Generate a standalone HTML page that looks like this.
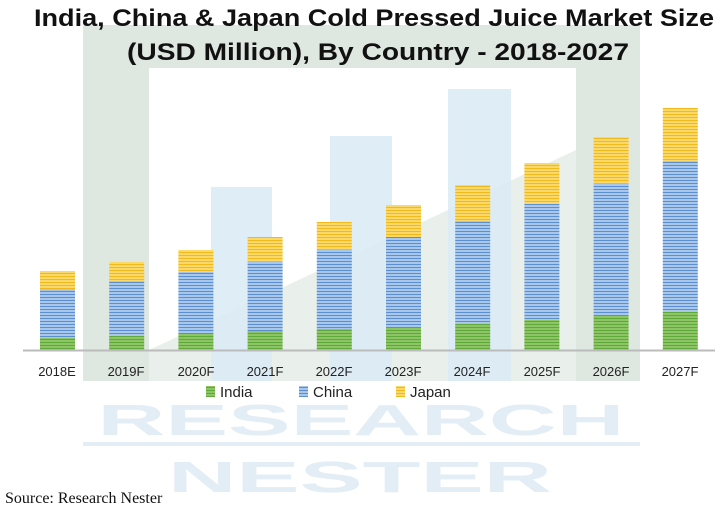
<!DOCTYPE html>
<html><head><meta charset="utf-8"><style>
body{margin:0;background:#fff;}
svg{display:block;}
</style></head><body>
<svg width="723" height="508" viewBox="0 0 723 508" xmlns="http://www.w3.org/2000/svg">
<defs>
<pattern id="pg" width="4" height="3" patternUnits="userSpaceOnUse"><rect width="4" height="3" fill="#8cc466"/><rect width="4" height="1" fill="#5fa83a"/></pattern>
<pattern id="pb" width="4" height="3" patternUnits="userSpaceOnUse"><rect width="4" height="3" fill="#a8c7ea"/><rect width="4" height="1" fill="#5b8fd0"/></pattern>
<pattern id="py" width="4" height="3" patternUnits="userSpaceOnUse"><rect width="4" height="3" fill="#fbd86a"/><rect width="4" height="1" fill="#f2b91c"/></pattern>
</defs>
<path d="M83 25 H640 V381 H576 V68 H149 V381 H83 Z" fill="#dfe7e1"/>
<polygon points="149,350 576,150 576,381 149,381" fill="#e9efea"/>
<rect x="211" y="187" width="61" height="194" fill="#dcebf5" opacity="0.9"/>
<rect x="330" y="136" width="62" height="245" fill="#dcebf5" opacity="0.9"/>
<rect x="448" y="89" width="63" height="292" fill="#dcebf5" opacity="0.9"/>
<text x="361" y="435" text-anchor="middle" font-family="Liberation Sans, sans-serif" font-weight="bold" font-size="44" fill="#e3edf5" textLength="527" lengthAdjust="spacingAndGlyphs">RESEARCH</text>
<rect x="83" y="442" width="557" height="4" fill="#e3edf5"/>
<text x="360" y="492" text-anchor="middle" font-family="Liberation Sans, sans-serif" font-weight="bold" font-size="44" fill="#e3edf5" textLength="384" lengthAdjust="spacingAndGlyphs">NESTER</text>
<text x="374" y="26" text-anchor="middle" font-family="Liberation Sans, sans-serif" font-weight="bold" font-size="24" fill="#111" textLength="680" lengthAdjust="spacingAndGlyphs">India, China &amp; Japan Cold Pressed Juice Market Size</text>
<text x="378" y="60" text-anchor="middle" font-family="Liberation Sans, sans-serif" font-weight="bold" font-size="24" fill="#111" textLength="502" lengthAdjust="spacingAndGlyphs">(USD Million), By Country - 2018-2027</text>
<g>
<rect x="40" y="271" width="35" height="18" fill="url(#py)"/><rect x="40" y="289" width="35" height="49" fill="url(#pb)"/><rect x="40" y="338" width="35" height="12" fill="url(#pg)"/>
<rect x="109.2" y="262" width="35" height="19" fill="url(#py)"/><rect x="109.2" y="281" width="35" height="55" fill="url(#pb)"/><rect x="109.2" y="336" width="35" height="14" fill="url(#pg)"/>
<rect x="178.4" y="250" width="35" height="22" fill="url(#py)"/><rect x="178.4" y="272" width="35" height="61" fill="url(#pb)"/><rect x="178.4" y="333" width="35" height="17" fill="url(#pg)"/>
<rect x="247.6" y="237" width="35" height="25" fill="url(#py)"/><rect x="247.6" y="262" width="35" height="69" fill="url(#pb)"/><rect x="247.6" y="331" width="35" height="19" fill="url(#pg)"/>
<rect x="316.8" y="222" width="35" height="28" fill="url(#py)"/><rect x="316.8" y="250" width="35" height="79" fill="url(#pb)"/><rect x="316.8" y="329" width="35" height="21" fill="url(#pg)"/>
<rect x="386" y="205" width="35" height="32" fill="url(#py)"/><rect x="386" y="237" width="35" height="90" fill="url(#pb)"/><rect x="386" y="327" width="35" height="23" fill="url(#pg)"/>
<rect x="455.2" y="185" width="35" height="36" fill="url(#py)"/><rect x="455.2" y="221" width="35" height="103" fill="url(#pb)"/><rect x="455.2" y="324" width="35" height="26" fill="url(#pg)"/>
<rect x="524.4" y="163" width="35" height="41" fill="url(#py)"/><rect x="524.4" y="204" width="35" height="116" fill="url(#pb)"/><rect x="524.4" y="320" width="35" height="30" fill="url(#pg)"/>
<rect x="593.6" y="137" width="35" height="47" fill="url(#py)"/><rect x="593.6" y="184" width="35" height="132" fill="url(#pb)"/><rect x="593.6" y="316" width="35" height="34" fill="url(#pg)"/>
<rect x="662.8" y="108" width="35" height="53" fill="url(#py)"/><rect x="662.8" y="161" width="35" height="151" fill="url(#pb)"/><rect x="662.8" y="312" width="35" height="38" fill="url(#pg)"/>
</g>
<line x1="23" y1="350.5" x2="715" y2="350.5" stroke="#bbb" stroke-width="2"/>
<g font-family="Liberation Sans, sans-serif" font-size="13" fill="#222" text-anchor="middle">
<text x="57" y="376">2018E</text><text x="126" y="376">2019F</text><text x="196" y="376">2020F</text><text x="265" y="376">2021F</text><text x="334" y="376">2022F</text><text x="403" y="376">2023F</text><text x="472" y="376">2024F</text><text x="542" y="376">2025F</text><text x="611" y="376">2026F</text><text x="680" y="376">2027F</text>
</g>
<g font-family="Liberation Sans, sans-serif" font-size="15" fill="#222">
<rect x="206" y="386" width="9" height="11" fill="url(#pg)"/><text x="220" y="397">India</text>
<rect x="299" y="386" width="9" height="11" fill="url(#pb)"/><text x="313" y="397">China</text>
<rect x="396" y="386" width="9" height="11" fill="url(#py)"/><text x="410" y="397">Japan</text>
</g>
<text x="5" y="503" font-family="Liberation Serif, serif" font-size="16" fill="#111">Source: Research Nester</text>
</svg>
</body></html>
